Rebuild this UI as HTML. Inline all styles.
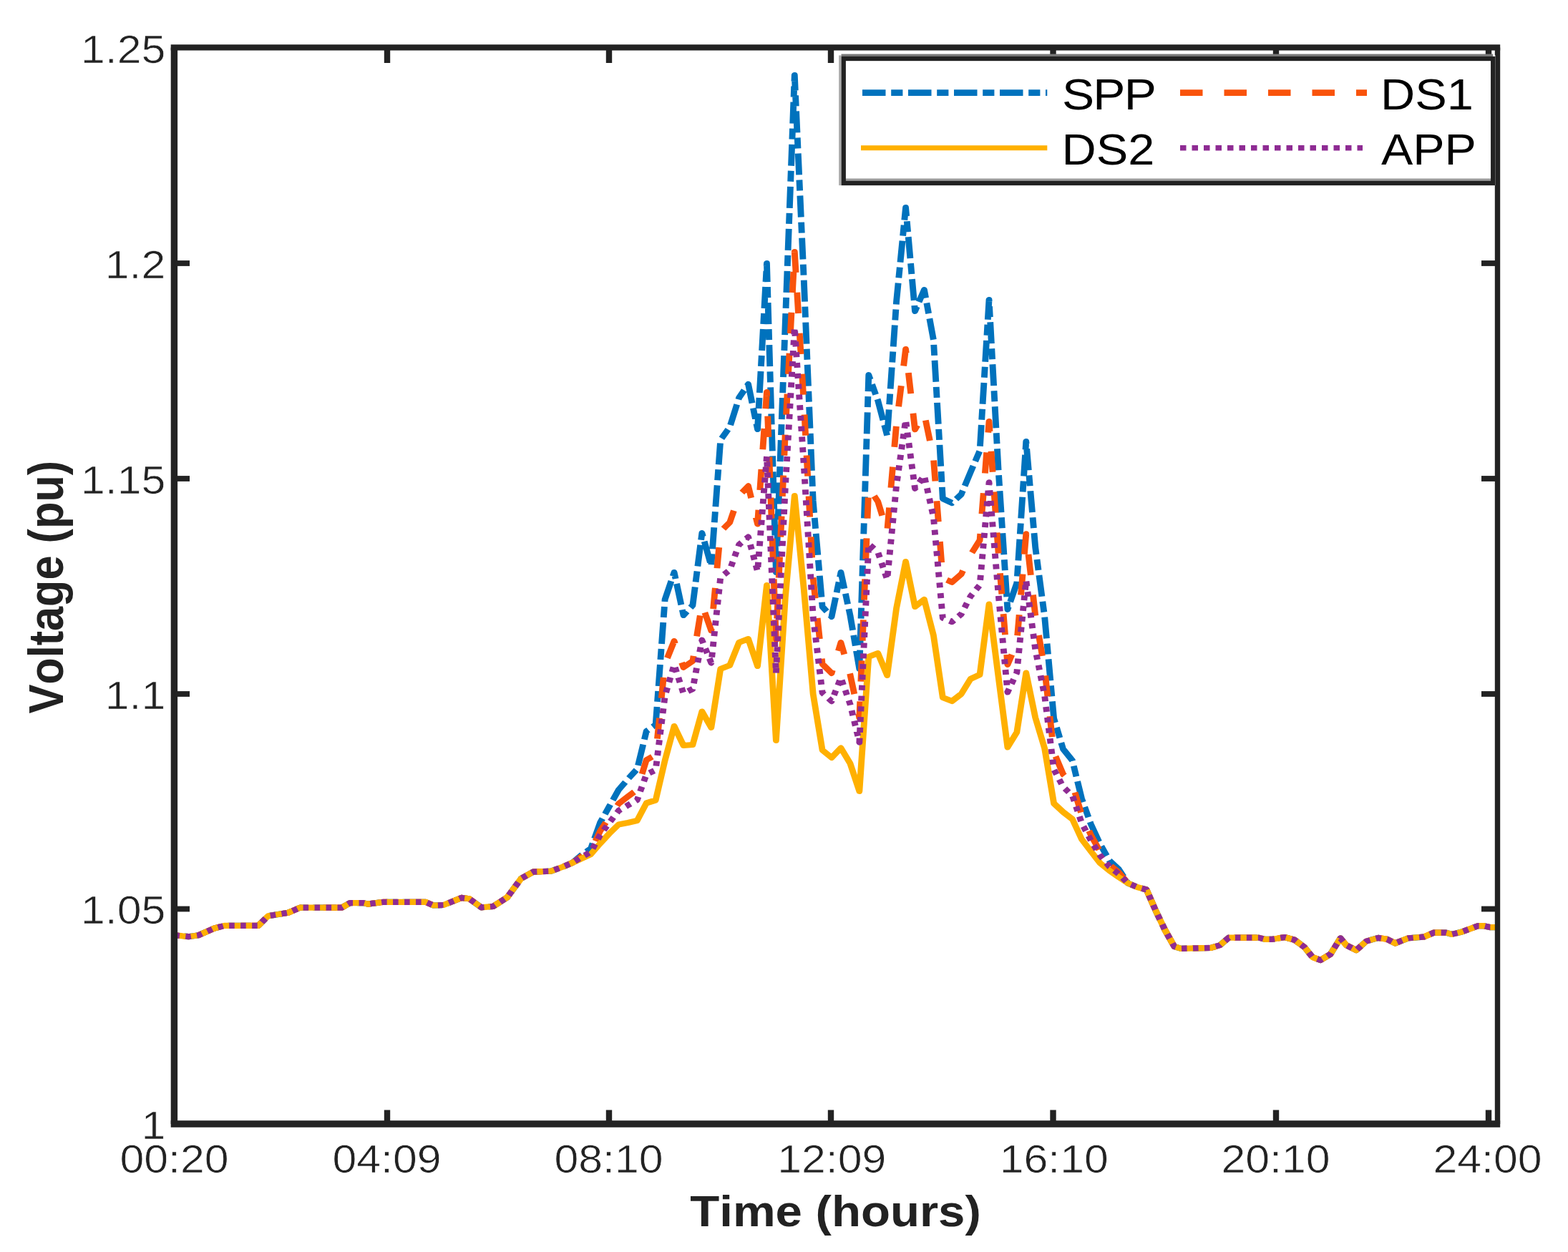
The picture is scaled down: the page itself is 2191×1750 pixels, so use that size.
<!DOCTYPE html>
<html lang="en">
<head>
<meta charset="utf-8">
<title>Voltage profile comparison</title>
<style>
html,body{margin:0;padding:0;background:#ffffff;}
body{width:2191px;height:1750px;overflow:hidden;}
svg{display:block;}
text{font-family:"Liberation Sans",sans-serif;font-kerning:none;}
</style>
</head>
<body>
<svg width="2191" height="1750" viewBox="0 0 2191 1750">
<rect width="2191" height="1750" fill="#ffffff"/>
<g fill="none" stroke-width="8.2" stroke-linejoin="round" stroke-linecap="butt" transform="scale(1.08,1)">
<polyline points="225.37,1307.2 243.89,1309.2 256.76,1307.2 277.41,1297.5 290.28,1293.9 334.07,1293.9 346.94,1280.3 372.78,1275.8 388.24,1268.6 442.31,1268.6 452.59,1262.2 470.65,1262.2 475.83,1263.6 496.48,1260.8 550.56,1260.8 560.83,1265.5 573.80,1265.0 596.94,1254.9 607.22,1256.3 622.69,1268.3 638.15,1266.9 656.20,1254.4 674.26,1227.9 689.72,1218.7 712.96,1217.6 728.52,1211.5 740.48,1206.0 752.46,1195.0 764.44,1186.0 776.43,1150.0 788.41,1127.0 800.39,1104.0 812.37,1089.0 824.35,1075.0 836.33,1022.0 848.31,1013.0 860.30,838.0 872.28,800.0 884.26,860.0 896.24,846.0 908.22,745.0 920.20,791.0 932.19,615.0 944.17,597.0 956.15,556.0 968.13,537.0 980.11,600.0 992.09,368.0 1004.07,800.0 1016.06,450.0 1028.04,105.0 1040.02,390.0 1052.00,700.0 1063.98,848.0 1075.96,862.0 1087.94,800.0 1099.93,860.0 1111.91,935.0 1123.89,524.0 1135.87,560.0 1147.85,609.0 1159.83,421.0 1171.81,290.0 1183.80,435.0 1195.78,405.0 1207.76,475.0 1219.74,697.0 1231.72,703.0 1243.70,691.0 1255.69,660.0 1267.67,630.0 1279.65,419.0 1291.63,655.0 1303.61,852.0 1315.59,815.0 1327.57,617.0 1339.56,765.0 1351.54,862.0 1363.52,1004.0 1375.50,1047.0 1387.48,1063.0 1399.46,1116.0 1411.44,1152.0 1423.43,1180.0 1435.41,1203.0 1447.39,1215.0 1459.37,1234.5 1471.35,1240.0 1483.33,1243.5 1495.31,1273.0 1507.30,1300.0 1519.28,1323.0 1528.06,1325.9 1566.67,1324.8 1578.33,1321.2 1589.91,1310.6 1628.52,1310.6 1636.30,1312.8 1646.57,1312.8 1662.04,1310.0 1674.91,1313.7 1687.78,1324.0 1698.15,1337.9 1708.43,1342.0 1721.30,1333.7 1734.26,1311.4 1741.94,1321.2 1754.81,1328.1 1767.69,1315.6 1783.15,1310.9 1794.72,1312.8 1805.09,1318.4 1821.85,1311.4 1842.41,1309.5 1855.37,1303.6 1870.83,1303.6 1878.52,1305.9 1891.39,1302.5 1912.04,1294.2 1919.72,1294.2 1927.50,1296.1 1936.48,1296.1" stroke="#0072BD" stroke-dasharray="30 7.1 15 7" stroke-dashoffset="46.0"/>
<polyline points="225.37,1307.2 243.89,1309.2 256.76,1307.2 277.41,1297.5 290.28,1293.9 334.07,1293.9 346.94,1280.3 372.78,1275.8 388.24,1268.6 442.31,1268.6 452.59,1262.2 470.65,1262.2 475.83,1263.6 496.48,1260.8 550.56,1260.8 560.83,1265.5 573.80,1265.0 596.94,1254.9 607.22,1256.3 622.69,1268.3 638.15,1266.9 656.20,1254.4 674.26,1227.9 689.72,1218.7 712.96,1217.6 728.52,1211.5 740.48,1206.0 752.46,1197.0 764.44,1189.2 776.43,1161.6 788.41,1142.2 800.39,1123.4 812.37,1113.4 824.35,1103.8 836.33,1062.2 848.31,1055.2 860.30,928.0 872.28,896.0 884.26,932.8 896.24,924.0 908.22,844.8 920.20,881.4 932.19,743.0 944.17,730.2 956.15,692.8 968.13,679.4 980.11,732.4 992.09,548.0 1004.07,894.0 1016.06,604.0 1028.04,352.0 1040.02,563.2 1052.00,808.0 1063.98,928.2 1075.96,940.8 1087.94,898.2 1099.93,942.8 1111.91,1003.4 1123.89,681.6 1135.87,701.2 1147.85,743.0 1159.83,592.6 1171.81,488.0 1183.80,600.2 1195.78,578.2 1207.76,640.2 1219.74,808.2 1231.72,813.8 1243.70,802.6 1255.69,775.6 1267.67,755.2 1279.65,589.2 1291.63,771.0 1303.61,929.0 1315.59,898.4 1327.57,746.4 1339.56,860.2 1351.54,935.6 1363.52,1051.6 1375.50,1082.2 1387.48,1095.8 1399.46,1138.8 1411.44,1167.2 1423.43,1190.6 1435.41,1208.6 1447.39,1219.4 1459.37,1234.5 1471.35,1240.0 1483.33,1243.5 1495.31,1273.0 1507.30,1300.0 1519.28,1323.0 1528.06,1325.9 1566.67,1324.8 1578.33,1321.2 1589.91,1310.6 1628.52,1310.6 1636.30,1312.8 1646.57,1312.8 1662.04,1310.0 1674.91,1313.7 1687.78,1324.0 1698.15,1337.9 1708.43,1342.0 1721.30,1333.7 1734.26,1311.4 1741.94,1321.2 1754.81,1328.1 1767.69,1315.6 1783.15,1310.9 1794.72,1312.8 1805.09,1318.4 1821.85,1311.4 1842.41,1309.5 1855.37,1303.6 1870.83,1303.6 1878.52,1305.9 1891.39,1302.5 1912.04,1294.2 1919.72,1294.2 1927.50,1296.1 1936.48,1296.1" stroke="#F9530B" stroke-dasharray="29.2 27.8" stroke-dashoffset="24.5"/>
<polyline points="225.37,1307.2 243.89,1309.2 256.76,1307.2 277.41,1297.5 290.28,1293.9 334.07,1293.9 346.94,1280.3 372.78,1275.8 388.24,1268.6 442.31,1268.6 452.59,1262.2 470.65,1262.2 475.83,1263.6 496.48,1260.8 550.56,1260.8 560.83,1265.5 573.80,1265.0 596.94,1254.9 607.22,1256.3 622.69,1268.3 638.15,1266.9 656.20,1254.4 674.26,1227.9 689.72,1218.7 712.96,1217.6 728.52,1211.5 740.48,1206.0 752.46,1200.0 764.44,1194.0 776.43,1179.0 788.41,1165.0 800.39,1152.5 812.37,1150.0 824.35,1147.0 836.33,1122.5 848.31,1118.5 860.30,1063.0 872.28,1015.0 884.26,1042.0 896.24,1041.0 908.22,994.5 920.20,1017.0 932.19,935.0 944.17,930.0 956.15,898.0 968.13,893.0 980.11,931.0 992.09,818.0 1004.07,1035.0 1016.06,835.0 1028.04,693.0 1040.02,823.0 1052.00,970.0 1063.98,1048.5 1075.96,1059.0 1087.94,1045.5 1099.93,1067.0 1111.91,1106.0 1123.89,918.0 1135.87,913.0 1147.85,944.0 1159.83,850.0 1171.81,785.0 1183.80,848.0 1195.78,838.0 1207.76,888.0 1219.74,975.0 1231.72,980.0 1243.70,970.0 1255.69,949.0 1267.67,943.0 1279.65,844.5 1291.63,945.0 1303.61,1044.5 1315.59,1023.5 1327.57,940.5 1339.56,1003.0 1351.54,1046.0 1363.52,1123.0 1375.50,1135.0 1387.48,1145.0 1399.46,1173.0 1411.44,1190.0 1423.43,1206.5 1435.41,1217.0 1447.39,1226.0 1459.37,1234.5 1471.35,1240.0 1483.33,1243.5 1495.31,1273.0 1507.30,1300.0 1519.28,1323.0 1528.06,1325.9 1566.67,1324.8 1578.33,1321.2 1589.91,1310.6 1628.52,1310.6 1636.30,1312.8 1646.57,1312.8 1662.04,1310.0 1674.91,1313.7 1687.78,1324.0 1698.15,1337.9 1708.43,1342.0 1721.30,1333.7 1734.26,1311.4 1741.94,1321.2 1754.81,1328.1 1767.69,1315.6 1783.15,1310.9 1794.72,1312.8 1805.09,1318.4 1821.85,1311.4 1842.41,1309.5 1855.37,1303.6 1870.83,1303.6 1878.52,1305.9 1891.39,1302.5 1912.04,1294.2 1919.72,1294.2 1927.50,1296.1 1936.48,1296.1" stroke="#FFB000"/>
<polyline points="225.37,1307.2 243.89,1309.2 256.76,1307.2 277.41,1297.5 290.28,1293.9 334.07,1293.9 346.94,1280.3 372.78,1275.8 388.24,1268.6 442.31,1268.6 452.59,1262.2 470.65,1262.2 475.83,1263.6 496.48,1260.8 550.56,1260.8 560.83,1265.5 573.80,1265.0 596.94,1254.9 607.22,1256.3 622.69,1268.3 638.15,1266.9 656.20,1254.4 674.26,1227.9 689.72,1218.7 712.96,1217.6 728.52,1211.5 740.48,1206.0 752.46,1198.0 764.44,1190.8 776.43,1167.4 788.41,1149.8 800.39,1133.1 812.37,1125.6 824.35,1118.2 836.33,1082.3 848.31,1076.3 860.30,973.0 872.28,929.0 884.26,969.2 896.24,963.0 908.22,894.7 920.20,926.6 932.19,807.0 944.17,796.8 956.15,761.2 968.13,750.6 980.11,798.6 992.09,638.0 1004.07,941.0 1016.06,681.0 1028.04,457.8 1040.02,649.8 1052.00,862.0 1063.98,968.3 1075.96,980.2 1087.94,947.3 1099.93,984.2 1111.91,1037.6 1123.89,760.4 1135.87,771.8 1147.85,810.0 1159.83,678.4 1171.81,587.0 1183.80,682.8 1195.78,664.8 1207.76,722.8 1219.74,863.8 1231.72,869.2 1243.70,858.4 1255.69,833.4 1267.67,817.8 1279.65,674.3 1291.63,829.0 1303.61,967.5 1315.59,940.1 1327.57,811.1 1339.56,907.8 1351.54,972.4 1363.52,1075.4 1375.50,1099.8 1387.48,1112.2 1399.46,1150.2 1411.44,1174.8 1423.43,1195.9 1435.41,1211.4 1447.39,1221.6 1459.37,1234.5 1471.35,1240.0 1483.33,1243.5 1495.31,1273.0 1507.30,1300.0 1519.28,1323.0 1528.06,1325.9 1566.67,1324.8 1578.33,1321.2 1589.91,1310.6 1628.52,1310.6 1636.30,1312.8 1646.57,1312.8 1662.04,1310.0 1674.91,1313.7 1687.78,1324.0 1698.15,1337.9 1708.43,1342.0 1721.30,1333.7 1734.26,1311.4 1741.94,1321.2 1754.81,1328.1 1767.69,1315.6 1783.15,1310.9 1794.72,1312.8 1805.09,1318.4 1821.85,1311.4 1842.41,1309.5 1855.37,1303.6 1870.83,1303.6 1878.52,1305.9 1891.39,1302.5 1912.04,1294.2 1919.72,1294.2 1927.50,1296.1 1936.48,1296.1" stroke="#8E2B93" stroke-dasharray="7.0 7.8"/>
</g>
<g stroke="#222222" fill="none">
<line x1="238.70000000000002" y1="66.4" x2="2096.2" y2="66.4" stroke-width="8.4"/>
<line x1="238.70000000000002" y1="1571.0" x2="2096.2" y2="1571.0" stroke-width="9.3"/>
<line x1="243.4" y1="66.4" x2="243.4" y2="1571.0" stroke-width="9.4"/>
<line x1="2092.5" y1="66.4" x2="2092.5" y2="1571.0" stroke-width="7.4"/>
<line x1="541" y1="1571.0" x2="541" y2="1551.5" stroke-width="8.4"/>
<line x1="541" y1="66.4" x2="541" y2="88" stroke-width="8.4"/>
<line x1="851" y1="1571.0" x2="851" y2="1551.5" stroke-width="8.4"/>
<line x1="851" y1="66.4" x2="851" y2="88" stroke-width="8.4"/>
<line x1="1161" y1="1571.0" x2="1161" y2="1551.5" stroke-width="8.4"/>
<line x1="1161" y1="66.4" x2="1161" y2="88" stroke-width="8.4"/>
<line x1="1471.5" y1="1571.0" x2="1471.5" y2="1551.5" stroke-width="8.4"/>
<line x1="1471.5" y1="66.4" x2="1471.5" y2="88" stroke-width="8.4"/>
<line x1="1783" y1="1571.0" x2="1783" y2="1551.5" stroke-width="8.4"/>
<line x1="1783" y1="66.4" x2="1783" y2="88" stroke-width="8.4"/>
<line x1="2080" y1="1571.0" x2="2080" y2="1551.5" stroke-width="8.4"/>
<line x1="2080" y1="66.4" x2="2080" y2="88" stroke-width="8.4"/>
<line x1="243.4" y1="368" x2="265" y2="368" stroke-width="7.8"/>
<line x1="2092.5" y1="368" x2="2070" y2="368" stroke-width="7.8"/>
<line x1="243.4" y1="669" x2="265" y2="669" stroke-width="7.8"/>
<line x1="2092.5" y1="669" x2="2070" y2="669" stroke-width="7.8"/>
<line x1="243.4" y1="970" x2="265" y2="970" stroke-width="7.8"/>
<line x1="2092.5" y1="970" x2="2070" y2="970" stroke-width="7.8"/>
<line x1="243.4" y1="1270.5" x2="265" y2="1270.5" stroke-width="7.8"/>
<line x1="2092.5" y1="1270.5" x2="2070" y2="1270.5" stroke-width="7.8"/>
</g>
<rect x="1173.95" y="77.1" width="915.4499999999998" height="182.0" fill="#ffffff" stroke="none"/>
<line x1="1173.85" y1="77.4" x2="1173.85" y2="259.1" stroke="#ababab" stroke-width="3.4"/>
<line x1="1175.55" y1="77.3" x2="2086.2" y2="77.3" stroke="#7a7a7a" stroke-width="3.4"/>
<line x1="1178.75" y1="251.2" x2="2086.2" y2="251.2" stroke="#9c9c9c" stroke-width="3.6"/>
<rect x="1178.75" y="82.0" width="907.4499999999998" height="174.0" fill="none" stroke="#222222" stroke-width="6.3"/>
<g fill="none">
<line x1="1203" y1="129.6" x2="1463.3" y2="129.6" stroke="#0072BD" stroke-width="8.6" stroke-dasharray="32.5 7.7 16.2 7.6" stroke-dashoffset="-2"/>
<line x1="1649" y1="129.6" x2="1910" y2="129.6" stroke="#F9530B" stroke-width="8.6" stroke-dasharray="31.5 30"/>
<line x1="1203" y1="206.7" x2="1463.3" y2="206.7" stroke="#FFB000" stroke-width="7"/>
<line x1="1649" y1="206.8" x2="1904" y2="206.8" stroke="#8E2B93" stroke-width="7.4" stroke-dasharray="8.5 8"/>
</g>
<text transform="translate(1484,153.4) scale(1.1,1)" font-size="61.5" text-anchor="start" letter-spacing="-1.6" fill="#000000">SPP</text>
<text transform="translate(1483.5,230) scale(1.085,1)" font-size="61.5" text-anchor="start" fill="#000000">DS2</text>
<text transform="translate(1929,153.4) scale(1.085,1)" font-size="61.5" text-anchor="start" fill="#000000">DS1</text>
<text transform="translate(1930,230) scale(1.08,1)" font-size="61.5" text-anchor="start" fill="#000000">APP</text>
<text transform="translate(243.5,1638.9) scale(1.078,1)" font-size="56.4" text-anchor="middle" fill="#222222" stroke="#ffffff" stroke-width="0.7">00:20</text>
<text transform="translate(540.5,1638.9) scale(1.078,1)" font-size="56.4" text-anchor="middle" fill="#222222" stroke="#ffffff" stroke-width="0.7">04:09</text>
<text transform="translate(850.5,1638.9) scale(1.078,1)" font-size="56.4" text-anchor="middle" fill="#222222" stroke="#ffffff" stroke-width="0.7">08:10</text>
<text transform="translate(1162.3,1638.9) scale(1.078,1)" font-size="56.4" text-anchor="middle" fill="#222222" stroke="#ffffff" stroke-width="0.7">12:09</text>
<text transform="translate(1472.8,1638.9) scale(1.078,1)" font-size="56.4" text-anchor="middle" fill="#222222" stroke="#ffffff" stroke-width="0.7">16:10</text>
<text transform="translate(1782.5,1638.9) scale(1.078,1)" font-size="56.4" text-anchor="middle" fill="#222222" stroke="#ffffff" stroke-width="0.7">20:10</text>
<text transform="translate(2078.5,1638.9) scale(1.078,1)" font-size="56.4" text-anchor="middle" fill="#222222" stroke="#ffffff" stroke-width="0.7">24:00</text>
<text transform="translate(231.3,87.7) scale(1.078,1)" font-size="56.4" text-anchor="end" fill="#222222" stroke="#ffffff" stroke-width="0.7">1.25</text>
<text transform="translate(231.3,388.7) scale(1.078,1)" font-size="56.4" text-anchor="end" fill="#222222" stroke="#ffffff" stroke-width="0.7">1.2</text>
<text transform="translate(231.3,689.7) scale(1.078,1)" font-size="56.4" text-anchor="end" fill="#222222" stroke="#ffffff" stroke-width="0.7">1.15</text>
<text transform="translate(231.3,990.7) scale(1.078,1)" font-size="56.4" text-anchor="end" fill="#222222" stroke="#ffffff" stroke-width="0.7">1.1</text>
<text transform="translate(231.3,1291.2) scale(1.078,1)" font-size="56.4" text-anchor="end" fill="#222222" stroke="#ffffff" stroke-width="0.7">1.05</text>
<text transform="translate(231.3,1591.7) scale(1.078,1)" font-size="56.4" text-anchor="end" fill="#222222" stroke="#ffffff" stroke-width="0.7">1</text>
<text transform="translate(1167.5,1714) scale(1.083,1)" font-size="62" text-anchor="middle" font-weight="bold" fill="#222222">Time (hours)</text>
<text transform="translate(88.3,820.7) rotate(-90) scale(0.988,1.115)" font-size="62" text-anchor="middle" font-weight="bold" fill="#222222">Voltage (pu)</text>
</svg>
</body>
</html>
